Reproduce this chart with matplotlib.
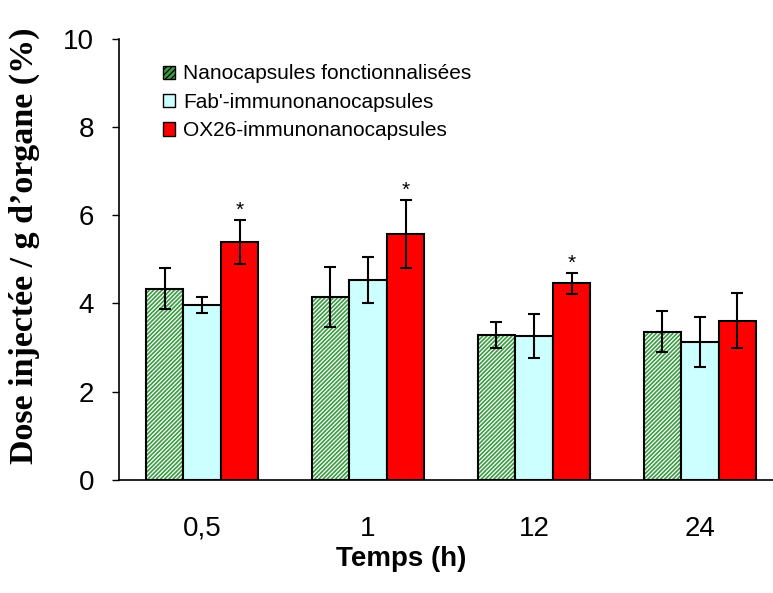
import numpy as np
import matplotlib
matplotlib.use("Agg")
import matplotlib.pyplot as plt
from matplotlib.patches import Patch

temps = ["0,5", "1", "12", "24"]
series = ["Nanocapsules fonctionnalisées", "Fab'-immunonanocapsules", "OX26-immunonanocapsules"]

nano = [4.34, 4.15, 3.29, 3.36]
nano_err = [0.46, 0.68, 0.30, 0.47]
fab = [3.96, 4.53, 3.26, 3.13]
fab_err = [0.18, 0.52, 0.50, 0.56]
ox26 = [5.40, 5.58, 4.46, 3.61]
ox26_err = [0.50, 0.77, 0.24, 0.62]
signif = [True, True, True, False]  # asterisks on OX26 bars

plt.rcParams['hatch.linewidth'] = 0.9

fig = plt.figure(figsize=(7.73, 5.93), dpi=100)
ax = fig.add_axes([0.154, 0.191, 0.846, 0.743])

x = np.arange(len(temps))
w = 0.226
green = "#3c9c44"
cyan = "#ccffff"
red = "#ff0000"

# green hatched bars: fill + white hatch, then outline
ax.bar(x - w, nano, w, color=green, edgecolor="white", hatch="////////", linewidth=0, zorder=2)
ax.bar(x - w, nano, w, facecolor="none", edgecolor="black", linewidth=1.5, zorder=3)
ax.bar(x, fab, w, color=cyan, edgecolor="black", linewidth=1.5, zorder=3)
ax.bar(x + w, ox26, w, color=red, edgecolor="black", linewidth=1.5, zorder=3)

ek = dict(fmt="none", ecolor="black", elinewidth=1.5, capsize=4, capthick=1.5, zorder=4)
ax.errorbar(x - w, nano, yerr=nano_err, **ek)
ax.errorbar(x, fab, yerr=fab_err, **ek)
ax.errorbar(x + w, ox26, yerr=ox26_err, **ek)

for i in range(len(temps)):
    if signif[i]:
        ax.text(x[i] + w, ox26[i] + ox26_err[i] + 0.22, "*", ha="center", va="center",
                fontsize=15, family="Liberation Sans")

ax.set_xlim(-0.5, 3.44)
ax.set_ylim(0, 10)
ax.set_yticks([0, 2, 4, 6, 8, 10])
ax.set_xticks(x)
ax.set_xticklabels(temps)
ax.tick_params(axis="x", length=0, pad=26, labelsize=20)
ax.tick_params(axis="y", direction="out", length=5, width=1, pad=13, labelsize=20)
for lab in ax.get_xticklabels() + ax.get_yticklabels():
    lab.set_family("Liberation Sans")

ax.spines["top"].set_visible(False)
ax.spines["right"].set_visible(False)
ax.spines["left"].set_linewidth(1.2)
ax.spines["bottom"].set_linewidth(1.2)

ax.set_xlabel("Temps (h)", fontsize=20, fontweight="bold", family="Liberation Sans")
ax.xaxis.set_label_coords(0.431, -0.15)
ax.set_ylabel("Dose injectée / g d’organe (%)", fontsize=24.5, fontweight="bold",
              family="Liberation Serif")
ax.yaxis.set_label_coords(-0.121, 0.531)

handles = [
    Patch(facecolor=green, edgecolor="black", hatch="//////", linewidth=1),
    Patch(facecolor=cyan, edgecolor="black", linewidth=1),
    Patch(facecolor=red, edgecolor="black", linewidth=1),
]
leg = ax.legend(handles, series, loc="upper left", bbox_to_anchor=(0.038, 0.985), frameon=False,
                prop={"family": "Liberation Sans", "size": 15}, handlelength=0.6,
                handleheight=0.6, handletextpad=0.4, labelspacing=0.45)

fig.savefig("out.png", dpi=100)
